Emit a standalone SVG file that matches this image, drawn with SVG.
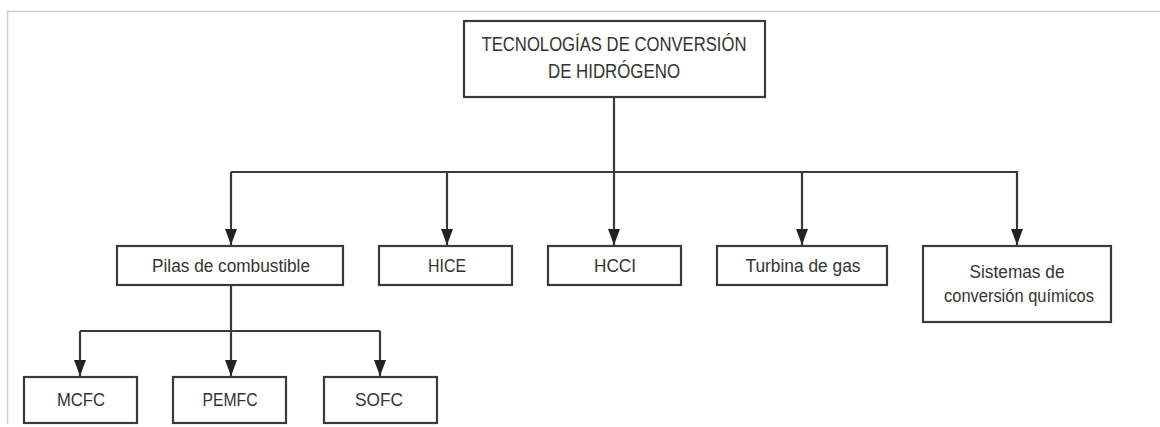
<svg xmlns="http://www.w3.org/2000/svg" width="1160" height="427" viewBox="0 0 1160 427">
<defs>
<style>
.box{fill:#fff;stroke:#3a3a3a;stroke-width:2.2}
.t{font-family:"Liberation Sans","DejaVu Sans",sans-serif;fill:#333;text-anchor:middle}
.m{font-size:20.5px}
.s{font-size:17.5px}
.c{fill:none;stroke:#3a3a3a;stroke-width:2.2}
</style>
<marker id="ah" viewBox="0 0 16 12" refX="16" refY="6" markerWidth="16" markerHeight="12" markerUnits="userSpaceOnUse" orient="auto">
<path d="M0,0 L16,6 L0,12 Z" fill="#222"/>
</marker>
</defs>
<rect width="1160" height="427" fill="#fff"/>
<path d="M7.5,424 V11.5 H1160" fill="none" stroke="#d0d0d0" stroke-width="1.5"/>
<g id="connectors">
<path class="c" d="M614,97 V172"/>
<path class="c" d="M231,172 H1018"/>
<path class="c" d="M231,172 V245" marker-end="url(#ah)"/>
<path class="c" d="M447,172 V245" marker-end="url(#ah)"/>
<path class="c" d="M614,172 V245" marker-end="url(#ah)"/>
<path class="c" d="M802,172 V245" marker-end="url(#ah)"/>
<path class="c" d="M1017,172 V245" marker-end="url(#ah)"/>
<path class="c" d="M231,285 V331"/>
<path class="c" d="M80,331 H380"/>
<path class="c" d="M80,331 V376" marker-end="url(#ah)"/>
<path class="c" d="M231,331 V376" marker-end="url(#ah)"/>
<path class="c" d="M380,331 V376" marker-end="url(#ah)"/>
</g>
<g id="root">
<rect class="box" x="464" y="21" width="301" height="76"/>
<text class="t m" x="614" y="51" textLength="265" lengthAdjust="spacingAndGlyphs">TECNOLOGÍAS DE CONVERSIÓN</text>
<text class="t m" x="614" y="78" textLength="132" lengthAdjust="spacingAndGlyphs">DE HIDRÓGENO</text>
</g>
<g id="pilas">
<rect class="box" x="117" y="246" width="226" height="39"/>
<text class="t s" x="231" y="272" textLength="158" lengthAdjust="spacingAndGlyphs">Pilas de combustible</text>
</g>
<g id="hice">
<rect class="box" x="379" y="246" width="133" height="39"/>
<text class="t s" x="447" y="272" textLength="38" lengthAdjust="spacingAndGlyphs">HICE</text>
</g>
<g id="hcci">
<rect class="box" x="548" y="246" width="133" height="39"/>
<text class="t s" x="615" y="272" textLength="42" lengthAdjust="spacingAndGlyphs">HCCI</text>
</g>
<g id="turbina">
<rect class="box" x="717" y="246" width="170" height="39"/>
<text class="t s" x="803" y="272" textLength="115" lengthAdjust="spacingAndGlyphs">Turbina de gas</text>
</g>
<g id="sistemas">
<rect class="box" x="923" y="246" width="188" height="76"/>
<text class="t s" x="1017" y="278" textLength="95" lengthAdjust="spacingAndGlyphs">Sistemas de</text>
<text class="t s" x="1019" y="302" textLength="150" lengthAdjust="spacingAndGlyphs">conversión químicos</text>
</g>
<g id="mcfc">
<rect class="box" x="24" y="377" width="113" height="46"/>
<text class="t s" x="81" y="406" textLength="48" lengthAdjust="spacingAndGlyphs">MCFC</text>
</g>
<g id="pemfc">
<rect class="box" x="173" y="377" width="113" height="46"/>
<text class="t s" x="230" y="406" textLength="55" lengthAdjust="spacingAndGlyphs">PEMFC</text>
</g>
<g id="sofc">
<rect class="box" x="324" y="377" width="113" height="46"/>
<text class="t s" x="379" y="406" textLength="48" lengthAdjust="spacingAndGlyphs">SOFC</text>
</g>
</svg>
